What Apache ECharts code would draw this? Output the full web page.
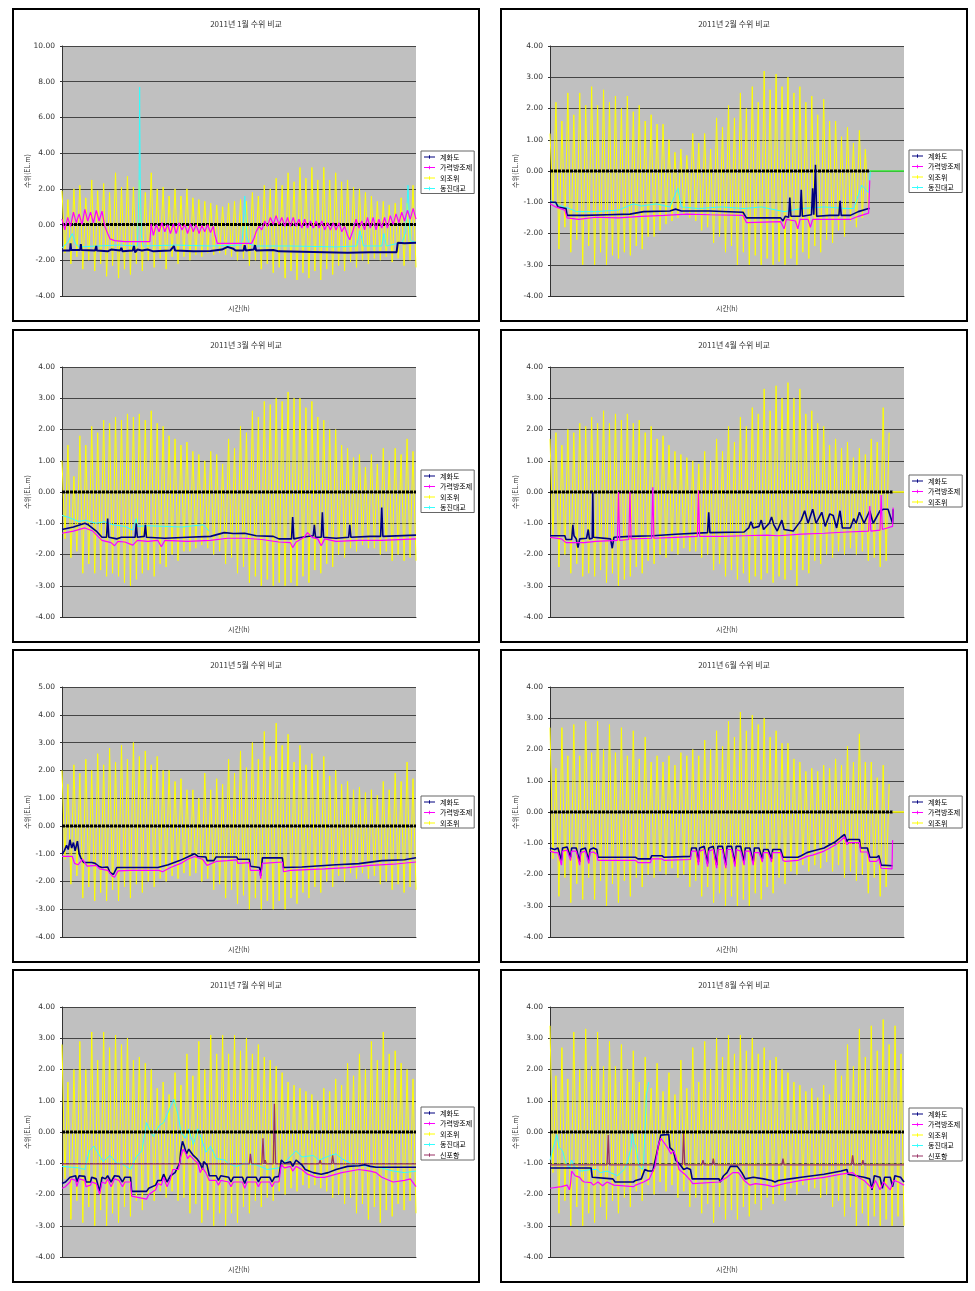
<!DOCTYPE html>
<html><head><meta charset="utf-8">
<script src="https://cdn.jsdelivr.net/npm/echarts@6/dist/echarts.min.js"></script>
<style>
html,body{margin:0;padding:0;background:#fff;width:975px;height:1291px;overflow:hidden}
.p{position:absolute;border:2px solid #000;width:464px;height:310px}
</style></head><body>
<div id="c1" class="p" style="left:12px;top:8px"></div>
<div id="c2" class="p" style="left:500px;top:8px"></div>
<div id="c3" class="p" style="left:12px;top:329px"></div>
<div id="c4" class="p" style="left:500px;top:329px"></div>
<div id="c5" class="p" style="left:12px;top:649px"></div>
<div id="c6" class="p" style="left:500px;top:649px"></div>
<div id="c7" class="p" style="left:12px;top:969px"></div>
<div id="c8" class="p" style="left:500px;top:969px"></div>
<script>
// ---------- categories ----------
const SERIES_NAMES = ['계화도','가력방조제','외조위','동진대교','신포항'];
const TIDE_SLOTS = Array.from({length:120}, (_, i) => i + 1); // successive tide extremes (high, low, ...)
const TITLES = ['2011년 1월 수위 비교','2011년 2월 수위 비교','2011년 3월 수위 비교','2011년 4월 수위 비교',
                '2011년 5월 수위 비교','2011년 6월 수위 비교','2011년 7월 수위 비교','2011년 8월 수위 비교'];
const Y_NAME = '수위(EL.m)';
const X_NAME = '시간(h)';

// ---------- 외조위 (outer tide) highs / lows, read per tide ----------
const JAN_HI = [1.9,1.4,2.0,2.2,1.5,2.5,1.9,2.3,1.8,2.9,2.1,2.7,2.1,2.5,1.8,2.9,2.0,2.1,1.6,2.0,1.6,2.0,1.5,1.4,1.3,1.2,1.1,1.0,1.2,1.3,1.4,1.3,1.8,1.6,2.2,2.0,2.6,2.2,2.9,2.4,3.2,2.6,3.2,2.5,3.2,2.5,2.9,2.4,2.5,2.1,2.0,1.8,1.6,1.3,1.3,1.1,1.2,1.5,1.2,2.2];
const JAN_LO = [-1.6,-2.2,-1.8,-2.5,-2.0,-2.6,-2.2,-2.9,-2.3,-3.0,-2.5,-2.8,-2.2,-2.6,-2.0,-2.4,-1.9,-2.5,-1.8,-2.2,-1.8,-2.0,-1.7,-1.8,-1.6,-1.7,-1.6,-1.7,-1.8,-2.0,-1.9,-2.3,-2.0,-2.5,-2.2,-2.7,-2.4,-3.0,-2.6,-3.1,-2.7,-3.0,-2.6,-3.1,-2.5,-2.8,-2.3,-2.6,-2.1,-2.4,-2.0,-2.2,-1.9,-2.0,-1.8,-2.1,-1.9,-2.3,-2.0,-2.4];
const FEB_HI = [1.2,2.2,1.6,2.5,1.8,2.5,2.1,2.7,2.1,2.6,2.2,2.4,2.0,2.4,1.9,2.1,1.6,1.8,1.5,1.5,1.0,0.6,0.7,0.5,1.2,0.9,1.2,0.7,1.7,1.4,2.1,1.7,2.5,2.0,2.7,2.2,3.2,2.6,3.1,2.7,3.0,2.5,2.7,2.2,2.4,1.8,2.3,1.6,1.6,1.1,1.4,0.9,1.3,0.7];
const FEB_LO = [-1.0,-2.5,-1.8,-2.6,-2.2,-3.0,-2.4,-3.0,-2.6,-3.0,-2.7,-2.8,-2.6,-2.7,-2.4,-2.5,-2.1,-2.1,-1.9,-1.7,-1.6,-1.5,-1.4,-1.5,-1.6,-1.9,-1.8,-2.3,-2.1,-2.6,-2.4,-3.0,-2.6,-3.0,-2.7,-3.0,-2.8,-3.0,-2.9,-3.0,-2.8,-3.0,-2.6,-2.8,-2.4,-2.6,-2.2,-2.3,-1.9,-2.1,-1.6,-1.8,-1.5,-1.2];
const MAR_HI = [1.0,1.5,0.5,1.8,1.5,2.1,1.9,2.3,2.2,2.4,2.3,2.5,2.4,2.5,2.3,2.6,2.2,2.1,1.8,1.7,1.5,1.6,1.3,1.2,1.0,1.3,1.2,0.9,1.7,1.4,2.1,1.9,2.6,2.4,2.9,2.8,3.0,2.9,3.2,3.0,3.0,2.7,2.9,2.4,2.3,2.0,2.0,1.5,1.4,1.1,1.2,0.8,1.2,0.9,1.4,1.0,1.4,1.2,1.7,1.3];
const MAR_LO = [-1.5,-2.1,-1.9,-2.6,-2.3,-2.6,-2.5,-2.7,-2.6,-2.7,-2.9,-3.0,-2.8,-2.6,-2.5,-2.7,-2.3,-2.4,-2.0,-2.2,-1.9,-1.9,-1.8,-1.7,-1.8,-2.0,-1.9,-2.3,-2.1,-2.6,-2.4,-2.9,-2.7,-3.0,-2.8,-3.0,-2.9,-3.0,-2.9,-3.0,-2.7,-2.9,-2.5,-2.6,-2.3,-2.4,-2.0,-2.1,-1.8,-1.9,-1.7,-1.8,-1.8,-2.0,-1.9,-2.2,-2.0,-2.2,-2.1,-2.2];
const APR_HI = [1.7,1.9,1.5,2.0,1.9,2.2,2.1,2.4,2.2,2.6,2.2,2.5,2.3,2.5,2.2,2.3,1.9,2.1,1.7,1.8,1.5,1.3,1.2,1.1,1.0,0.9,1.3,1.0,1.7,1.3,2.1,1.6,2.4,2.1,2.7,2.5,3.3,2.6,3.4,3.0,3.5,3.0,3.3,2.5,2.6,2.2,2.1,1.5,1.7,1.4,1.6,1.1,1.4,1.2,1.7,1.6,2.7,1.9];
const APR_LO = [-1.5,-2.4,-2.0,-2.6,-2.3,-2.7,-2.6,-2.7,-2.5,-2.9,-2.6,-3.0,-2.8,-2.7,-2.4,-2.6,-2.2,-2.3,-2.0,-2.1,-1.9,-2.0,-1.8,-1.9,-1.9,-2.1,-2.0,-2.5,-2.3,-2.7,-2.5,-2.8,-2.6,-2.9,-2.7,-2.8,-2.6,-2.9,-2.7,-2.8,-2.5,-3.0,-2.5,-2.6,-2.2,-2.3,-2.0,-2.1,-1.9,-2.0,-1.8,-2.0,-1.9,-2.2,-2.1,-2.4,-2.2];
const MAY_HI = [2.0,1.5,2.2,1.9,2.4,2.0,2.6,2.2,2.8,2.3,2.9,2.4,3.0,2.5,2.7,2.2,2.5,2.0,2.0,1.6,1.7,1.3,1.3,1.0,1.9,1.3,1.7,1.5,2.4,1.9,2.7,2.1,3.0,2.4,3.4,2.5,3.7,2.9,3.3,2.3,2.9,2.2,2.6,2.0,2.5,1.8,2.0,1.5,1.6,1.3,1.4,1.2,1.3,1.1,1.6,1.3,1.9,1.6,2.3,1.7];
const MAY_LO = [-1.2,-2.1,-1.8,-2.6,-2.2,-2.7,-2.4,-2.7,-2.3,-2.7,-2.2,-2.6,-2.1,-2.4,-2.0,-2.2,-1.9,-2.0,-1.8,-1.9,-1.7,-1.8,-1.7,-2.0,-1.9,-2.3,-2.1,-2.6,-2.3,-2.8,-2.5,-3.0,-2.6,-3.0,-2.7,-3.0,-2.7,-3.0,-2.6,-2.8,-2.4,-2.6,-2.2,-2.4,-2.0,-2.2,-1.8,-2.0,-1.7,-1.9,-1.7,-1.9,-1.8,-2.1,-2.0,-2.3,-2.1,-2.4,-2.2,-2.3];
const JUN_HI = [2.7,1.4,2.7,1.8,2.8,1.8,2.9,1.9,2.9,2.0,2.8,1.9,2.7,1.8,2.6,1.7,2.4,1.6,1.8,1.6,1.8,1.5,1.9,1.8,2.0,1.8,2.3,2.0,2.6,2.1,2.9,2.4,3.2,2.6,3.1,2.8,3.0,2.4,2.6,2.2,2.2,1.7,1.6,1.3,1.4,1.3,1.5,1.4,1.7,1.5,2.1,1.6,2.5,1.6,1.6,1.1,1.5,0.9];
const JUN_LO = [-1.5,-2.7,-2.1,-2.9,-2.3,-2.8,-2.1,-2.8,-2.2,-3.0,-2.3,-2.9,-2.2,-2.7,-2.1,-2.4,-2.0,-2.1,-1.9,-2.0,-1.8,-2.1,-2.0,-2.4,-2.2,-2.7,-2.4,-2.9,-2.6,-3.0,-2.7,-3.0,-2.8,-3.0,-2.6,-2.8,-2.4,-2.6,-2.1,-2.3,-1.9,-2.0,-1.7,-1.9,-1.7,-1.8,-1.6,-1.9,-1.7,-2.1,-1.9,-2.2,-2.0,-2.6,-2.1,-2.7,-2.4];
const JUL_HI = [2.8,1.6,2.0,2.9,2.0,3.2,2.3,3.2,2.7,3.1,2.8,3.0,2.3,2.4,2.2,2.0,1.4,1.6,1.2,1.9,1.5,2.5,1.8,2.9,2.0,3.1,2.5,3.1,2.5,3.1,2.6,3.0,2.5,2.8,2.4,2.3,2.1,1.9,1.6,1.5,1.4,1.3,1.2,1.0,1.4,1.3,1.7,1.5,2.2,1.8,2.5,2.0,2.9,2.3,3.2,2.5,2.6,2.2,2.0,1.7];
const JUL_LO = [-1.5,-2.8,-2.2,-2.9,-2.4,-3.0,-2.5,-3.0,-2.6,-2.9,-2.4,-2.7,-2.2,-2.5,-2.0,-2.2,-1.9,-2.1,-1.9,-2.2,-2.1,-2.6,-2.3,-2.9,-2.5,-3.0,-2.6,-3.0,-2.6,-2.9,-2.4,-2.6,-2.2,-2.4,-2.1,-2.2,-1.9,-2.0,-1.8,-1.9,-1.7,-1.8,-1.7,-1.8,-1.9,-2.1,-2.0,-2.3,-2.1,-2.6,-2.3,-2.8,-2.4,-2.9,-2.5,-2.7,-2.3,-2.5,-2.2,-2.6];
const AUG_HI = [3.4,1.8,2.7,1.7,3.2,2.0,3.3,2.1,3.2,2.1,2.9,2.1,2.8,2.0,2.6,1.6,2.4,1.4,2.2,1.3,1.9,1.2,2.3,1.4,2.7,1.6,2.9,2.0,3.0,2.4,3.1,2.5,3.1,2.6,3.0,2.5,2.7,2.3,2.4,2.0,1.9,1.6,1.5,1.3,1.4,1.1,1.5,1.2,2.3,1.8,2.8,2.1,3.3,2.4,3.4,2.6,3.6,2.8,3.4,2.5];
const AUG_LO = [-1.3,-2.6,-2.2,-3.0,-2.4,-3.0,-2.6,-2.9,-2.4,-2.8,-2.2,-2.6,-2.1,-2.4,-1.9,-2.2,-1.7,-2.0,-1.6,-1.9,-1.7,-2.1,-1.9,-2.4,-2.1,-2.6,-2.3,-2.9,-2.4,-2.8,-2.5,-2.8,-2.4,-2.7,-2.3,-2.5,-2.1,-2.3,-2.0,-2.2,-1.8,-2.0,-1.7,-1.9,-1.8,-2.1,-2.0,-2.4,-2.2,-2.7,-2.4,-3.0,-2.6,-3.0,-2.7,-3.0,-2.8,-3.0,-2.7,-3.0];

// ---------- station levels: [day of month, EL.m] ----------
const JAN_KYE = [[0,-1.45],[0.7,-1.45],[0.75,-1.05],[0.8,-1.42],[1.6,-1.42],[1.65,-1.1],[1.7,-1.42],[2.9,-1.45],[3.0,-1.2],[3.05,-1.45],[4.0,-1.5],[4.3,-1.4],[5.1,-1.45],[5.2,-1.3],[5.3,-1.5],[6.2,-1.45],[6.3,-1.2],[6.4,-1.55],[6.6,-1.4],[7.0,-1.45],[7.5,-1.4],[8.0,-1.5],[9.5,-1.45],[9.8,-1.2],[9.9,-1.45],[11.5,-1.5],[13.0,-1.48],[14.0,-1.4],[14.5,-1.25],[15.0,-1.35],[15.2,-1.45],[15.9,-1.45],[16.0,-1.15],[16.1,-1.45],[16.8,-1.4],[16.9,-1.15],[17.0,-1.45],[18.5,-1.42],[19.0,-1.5],[21.0,-1.52],[23.0,-1.55],[25.0,-1.58],[27.0,-1.55],[29.3,-1.55],[29.4,-1.02],[30.0,-1.05],[31,-1.02]];
const JAN_GAR = [[0,0.3],[0.25,-0.3],[0.5,0.4],[0.75,-0.1],[1.0,0.7],[1.25,0.1],[1.5,0.6],[1.75,0.0],[2.0,0.85],[2.25,0.2],[2.5,0.7],[2.75,0.1],[3.0,0.8],[3.25,0.2],[3.5,0.75],[3.75,-0.1],[4.0,-0.5],[4.2,-0.8],[4.6,-0.9],[5.5,-0.95],[7.7,-0.95],[7.8,0.05],[8.0,-0.6],[8.25,0.0],[8.5,-0.4],[8.75,0.1],[9.0,-0.4],[9.25,0.0],[9.5,-0.5],[9.75,0.05],[10.0,-0.5],[10.25,0.1],[10.5,-0.3],[10.75,0.0],[11.0,-0.5],[11.25,0.05],[11.5,-0.4],[11.75,0.0],[12.0,-0.5],[12.25,-0.05],[12.5,-0.4],[12.75,0.0],[13.0,-0.45],[13.25,-0.1],[13.4,-0.6],[13.6,-1.05],[16.6,-1.05],[16.8,-0.8],[17.0,-0.4],[17.25,-0.1],[17.5,-0.3],[17.75,0.2],[18.0,-0.1],[18.25,0.4],[18.5,0.0],[18.75,0.5],[19.0,0.0],[19.25,0.4],[19.5,-0.1],[19.75,0.4],[20.0,-0.1],[20.25,0.4],[20.5,-0.1],[20.75,0.3],[21.0,-0.2],[21.25,0.3],[21.5,-0.2],[21.75,0.2],[22.0,-0.2],[22.25,0.2],[22.5,-0.2],[22.75,0.2],[23.0,-0.3],[23.25,0.1],[23.5,-0.3],[23.75,0.1],[24.0,-0.3],[24.25,0.1],[24.5,-0.4],[24.75,-0.1],[25.0,-0.6],[25.2,-0.85],[25.5,-0.3],[25.75,0.3],[26.0,-0.2],[26.25,0.2],[26.5,-0.3],[26.75,0.4],[27.0,-0.2],[27.25,0.4],[27.5,-0.3],[27.75,0.3],[28.0,-0.2],[28.25,0.4],[28.5,-0.2],[28.75,0.5],[29.0,0.0],[29.25,0.6],[29.5,0.1],[29.75,0.7],[30.0,0.2],[30.25,0.8],[30.5,0.3],[30.75,0.9],[31,0.3]];
const JAN_DONG = [[0,-1.3],[0.5,-1.0],[0.9,-0.5],[1.2,-1.1],[1.5,-1.25],[3,-1.2],[5,-1.15],[6.6,-1.2],[6.75,2.0],[6.8,7.7],[6.85,2.4],[6.95,-0.6],[7.1,-1.2],[10,-1.15],[13,-1.2],[15.7,-1.15],[15.8,-0.8],[16.0,1.6],[16.2,-0.7],[16.4,-1.1],[17,-1.2],[20,-1.2],[24,-1.25],[25.8,-1.2],[26.1,-0.35],[26.4,-1.2],[28.0,-1.2],[28.2,-0.5],[28.4,-1.2],[29.8,-1.0],[30.1,-0.4],[30.3,2.2],[30.5,-0.9],[31,-1.0]];

const FEB_KYE = [[0,-1.0],[0.5,-1.0],[0.7,-1.15],[1.4,-1.2],[1.5,-1.42],[3,-1.42],[5,-1.4],[7,-1.38],[8.2,-1.3],[10.5,-1.28],[11,-1.22],[11.5,-1.28],[14,-1.28],[16.9,-1.32],[17.2,-1.5],[20.2,-1.5],[20.4,-1.6],[20.6,-1.45],[20.9,-1.48],[21.0,-0.85],[21.1,-1.45],[21.9,-1.45],[22.0,-0.6],[22.1,-1.45],[22.9,-1.4],[23.0,-0.55],[23.1,-1.4],[23.25,0.2],[23.35,-1.45],[24.5,-1.42],[25.3,-1.42],[25.4,-0.95],[25.5,-1.42],[26.3,-1.42],[27,-1.3],[27.9,-1.2],[28.0,-1.2]];
const FEB_GAR = [[0,-1.05],[0.5,-1.15],[1.3,-1.25],[1.5,-1.5],[2.5,-1.55],[4,-1.48],[6,-1.5],[8,-1.45],[10,-1.42],[12,-1.38],[14,-1.4],[16.9,-1.42],[17.2,-1.65],[20.2,-1.62],[20.5,-1.85],[20.7,-1.55],[21.5,-1.6],[21.7,-1.85],[21.9,-1.55],[22.6,-1.55],[22.8,-1.8],[23.0,-1.55],[25,-1.55],[26.3,-1.55],[27,-1.45],[27.9,-1.35],[28.0,-0.3]];
const FEB_DONG = [[0,-0.95],[0.8,-1.1],[1.7,-1.2],[2.3,-1.3],[4,-1.3],[6,-1.25],[7.3,-1.05],[8,-1.12],[9.3,-1.05],[10.5,-1.15],[11.2,-0.55],[11.5,-1.15],[13,-1.2],[15,-1.15],[17,-1.2],[18.5,-1.15],[20.5,-1.3],[22,-1.2],[24,-1.15],[26,-1.2],[26.6,-1.2],[27.3,-0.45],[27.9,-0.7],[28.05,0]];
const FEB_TAIL = [[28,0],[31,0]];

const MAR_KYE = [[0,-1.2],[1,-1.12],[2,-1.0],[2.3,-1.05],[3.0,-1.25],[3.5,-1.45],[3.9,-1.45],[4.0,-0.85],[4.1,-1.45],[4.8,-1.5],[5.2,-1.45],[6.4,-1.45],[6.5,-1.0],[6.6,-1.45],[7.2,-1.42],[7.3,-1.05],[7.4,-1.45],[9,-1.48],[11,-1.45],[13,-1.42],[14.2,-1.3],[15,-1.33],[16,-1.32],[17,-1.4],[18.5,-1.42],[19,-1.5],[20.1,-1.5],[20.2,-0.8],[20.3,-1.5],[21,-1.45],[22.0,-1.4],[22.1,-1.05],[22.2,-1.45],[22.7,-1.45],[22.8,-0.65],[22.9,-1.45],[24,-1.48],[25.1,-1.45],[25.2,-1.05],[25.3,-1.45],[27,-1.42],[27.9,-1.42],[28.0,-0.5],[28.1,-1.42],[31,-1.38]];
const MAR_GAR = [[0,-1.32],[1,-1.25],[2,-1.15],[2.7,-1.25],[3.5,-1.55],[4.3,-1.62],[4.6,-1.72],[4.9,-1.58],[5.5,-1.6],[6.2,-1.7],[6.6,-1.55],[7.5,-1.58],[8.4,-1.55],[8.7,-1.75],[9.0,-1.55],[11,-1.58],[13,-1.55],[14.5,-1.48],[16,-1.48],[17.5,-1.52],[19,-1.6],[20.0,-1.62],[20.2,-1.78],[20.5,-1.6],[21.2,-1.45],[21.5,-1.3],[21.9,-1.45],[22.4,-1.5],[22.7,-1.72],[23,-1.5],[24,-1.58],[26,-1.55],[28,-1.55],[31,-1.5]];
const MAR_DONG = [[0,-0.75],[0.5,-0.8],[1.5,-0.95],[2,-0.9],[3,-1.0],[3.7,-0.95],[4.5,-1.05],[5.5,-1.1],[6.2,-1.22],[6.5,-0.85],[6.6,-1.1],[7.5,-1.08],[9,-1.1],[10.5,-1.12],[11.5,-1.08],[12.4,-1.05],[12.8,-1.22],[12.9,-1.25]];

const APR_KYE = [[0,-1.4],[1.3,-1.4],[1.4,-1.52],[1.9,-1.52],[2.0,-1.05],[2.1,-1.4],[2.3,-1.5],[2.45,-1.78],[2.6,-1.5],[3.2,-1.48],[3.35,-1.2],[3.45,-1.5],[3.7,-1.48],[3.75,0.0],[3.8,-1.45],[5.3,-1.5],[5.45,-1.8],[5.6,-1.45],[7,-1.42],[9,-1.4],[11,-1.35],[13.8,-1.3],[13.9,-0.65],[14.0,-1.3],[17,-1.28],[17.4,-1.15],[17.6,-0.95],[17.8,-1.15],[18.3,-1.1],[18.5,-0.9],[18.7,-1.2],[19.2,-1.0],[19.4,-0.8],[19.6,-1.05],[19.9,-1.25],[20.3,-0.9],[20.5,-1.2],[21.3,-1.25],[21.6,-1.1],[22.0,-0.9],[22.3,-0.6],[22.6,-1.0],[23.0,-0.55],[23.3,-1.0],[23.8,-0.65],[24.1,-1.1],[24.5,-0.7],[24.8,-0.75],[25.1,-1.15],[25.4,-0.6],[25.6,-1.15],[26.3,-1.15],[26.6,-0.85],[26.8,-1.0],[27.1,-0.65],[27.5,-1.0],[28.0,-0.6],[28.3,-1.0],[28.9,-0.6],[29.2,-0.55],[29.6,-0.55],[30.0,-1.0],[30.05,-0.55]];
const APR_GAR = [[0,-1.45],[1.0,-1.5],[1.4,-1.62],[3,-1.62],[4,-1.58],[5.9,-1.55],[6.0,0.0],[6.1,-1.55],[6.9,-1.52],[7.0,0.0],[7.1,-1.5],[8.9,-1.48],[9.0,0.15],[9.1,-1.48],[11,-1.45],[12.9,-1.42],[13.0,0.05],[13.1,-1.42],[15,-1.42],[17,-1.4],[19,-1.38],[20,-1.4],[22,-1.35],[24,-1.32],[26,-1.28],[27.9,-1.25],[28.0,-0.45],[28.1,-1.25],[28.9,-1.22],[29.0,-0.1],[29.1,-1.2],[30,-1.1],[30.05,-0.5]];
const APR_TAIL = [[30,0],[31,0]];

const MAY_KYE = [[0,-1.0],[0.2,-0.9],[0.4,-0.7],[0.55,-0.85],[0.7,-0.5],[0.85,-0.8],[1.0,-0.6],[1.15,-0.9],[1.35,-0.55],[1.5,-1.0],[1.65,-1.15],[1.9,-1.32],[2.6,-1.32],[2.7,-1.25],[2.9,-1.35],[3.2,-1.45],[3.5,-1.5],[4.0,-1.48],[4.2,-1.68],[4.5,-1.75],[4.8,-1.5],[6,-1.5],[8.4,-1.5],[9.3,-1.4],[10.3,-1.25],[11,-1.12],[11.6,-1.0],[11.9,-1.1],[12.6,-1.12],[12.7,-1.25],[13.3,-1.25],[13.5,-1.12],[15.3,-1.12],[15.4,-1.2],[16.4,-1.2],[16.5,-1.45],[17.3,-1.5],[17.4,-1.8],[17.55,-1.15],[19.3,-1.15],[19.4,-1.5],[21,-1.48],[24,-1.4],[26,-1.36],[28,-1.25],[30,-1.22],[31,-1.15]];
const MAY_GAR = [[0,-1.1],[0.9,-1.1],[1.1,-1.35],[1.4,-1.4],[1.8,-1.2],[2.2,-1.45],[3.0,-1.42],[3.3,-1.55],[4.0,-1.6],[4.4,-1.8],[4.6,-1.85],[4.9,-1.62],[6,-1.6],[8.5,-1.6],[8.8,-1.65],[9.5,-1.5],[10.4,-1.35],[11,-1.2],[11.6,-1.1],[12.3,-1.2],[12.7,-1.42],[13.5,-1.28],[14.5,-1.25],[15.3,-1.22],[15.4,-1.35],[16.4,-1.32],[16.5,-1.6],[17.3,-1.6],[17.4,-1.9],[17.55,-1.35],[19.3,-1.3],[19.4,-1.65],[20,-1.6],[23,-1.55],[25,-1.5],[27,-1.42],[29,-1.38],[31,-1.3]];

const JUN_KYE = [[0,-1.15],[0.4,-1.2],[0.7,-1.15],[1.0,-1.55],[1.1,-1.15],[1.5,-1.12],[1.8,-1.45],[1.9,-1.15],[2.3,-1.15],[2.6,-1.6],[2.7,-1.2],[3.1,-1.15],[3.4,-1.55],[3.5,-1.2],[3.8,-1.15],[4.1,-1.2],[4.2,-1.45],[7.5,-1.45],[7.7,-1.5],[8.8,-1.5],[8.9,-1.4],[9.8,-1.4],[10,-1.45],[12.3,-1.42],[12.4,-1.15],[12.8,-1.15],[13.0,-1.6],[13.1,-1.15],[13.5,-1.1],[13.8,-1.65],[13.9,-1.15],[14.3,-1.1],[14.6,-1.7],[14.7,-1.1],[15.1,-1.1],[15.4,-1.7],[15.5,-1.1],[15.9,-1.1],[16.2,-1.65],[16.3,-1.1],[16.7,-1.1],[17.0,-1.6],[17.1,-1.15],[17.5,-1.15],[17.8,-1.6],[17.9,-1.15],[18.3,-1.15],[18.6,-1.5],[18.7,-1.2],[19.1,-1.2],[19.4,-1.5],[19.5,-1.2],[20.2,-1.2],[20.4,-1.45],[20.6,-1.45],[21.7,-1.45],[22,-1.4],[22.5,-1.3],[23,-1.25],[24,-1.15],[24.5,-1.05],[25,-0.95],[25.5,-0.8],[25.8,-0.72],[26.0,-0.95],[26.1,-0.88],[27.1,-0.88],[27.2,-1.15],[27.8,-1.15],[28.0,-1.45],[28.6,-1.45],[28.8,-1.4],[29.0,-1.7],[30.0,-1.72]];
const JUN_GAR = [[0,-1.25],[0.4,-1.3],[0.7,-1.3],[1.0,-1.7],[1.1,-1.25],[1.5,-1.22],[1.8,-1.55],[1.9,-1.25],[2.3,-1.25],[2.6,-1.7],[2.7,-1.3],[3.1,-1.25],[3.4,-1.65],[3.5,-1.3],[3.8,-1.28],[4.1,-1.35],[4.2,-1.55],[7.5,-1.55],[7.7,-1.62],[8.8,-1.62],[8.9,-1.5],[9.8,-1.5],[10,-1.55],[12.3,-1.52],[12.4,-1.25],[12.8,-1.25],[13.0,-1.7],[13.1,-1.25],[13.5,-1.2],[13.8,-1.75],[13.9,-1.25],[14.3,-1.2],[14.6,-1.8],[14.7,-1.2],[15.1,-1.2],[15.4,-1.8],[15.5,-1.2],[15.9,-1.2],[16.2,-1.75],[16.3,-1.2],[16.7,-1.25],[17.0,-1.7],[17.1,-1.25],[17.5,-1.25],[17.8,-1.7],[17.9,-1.3],[18.3,-1.3],[18.6,-1.6],[18.7,-1.3],[19.1,-1.3],[19.4,-1.6],[19.5,-1.3],[20.2,-1.3],[20.4,-1.55],[20.6,-1.58],[21.7,-1.55],[22,-1.5],[22.5,-1.42],[23,-1.38],[24,-1.25],[24.5,-1.15],[25,-1.05],[25.5,-0.9],[25.8,-0.8],[26.0,-1.05],[26.1,-0.98],[27.1,-0.98],[27.2,-1.28],[27.8,-1.28],[28.0,-1.58],[28.6,-1.58],[28.8,-1.5],[29.0,-1.8],[29.95,-1.82],[30.0,-0.9]];
const JUN_TAIL = [[30,0],[31,0]];

const JUL_KYE = [[0,-1.65],[0.3,-1.6],[0.7,-1.45],[0.8,-1.4],[1.2,-1.4],[1.3,-1.6],[1.5,-1.4],[2.0,-1.42],[2.1,-1.6],[2.5,-1.6],[2.6,-1.45],[3.0,-1.5],[3.3,-1.9],[3.5,-1.45],[3.8,-1.5],[4.0,-1.4],[4.3,-1.6],[4.6,-1.4],[5.0,-1.42],[5.3,-1.6],[5.5,-1.45],[6.0,-1.45],[6.1,-1.9],[7.4,-1.9],[7.6,-1.8],[8.2,-1.7],[8.4,-1.55],[8.7,-1.55],[8.9,-1.35],[9.2,-1.6],[9.5,-1.4],[9.9,-1.3],[10.0,-1.3],[10.3,-1.0],[10.4,-0.6],[10.55,-0.3],[10.7,-0.45],[10.9,-0.7],[11.1,-0.55],[11.5,-0.75],[11.8,-0.85],[12.1,-1.0],[12.3,-1.2],[12.4,-0.95],[12.7,-1.05],[12.9,-1.4],[13.5,-1.4],[13.7,-1.55],[13.9,-1.4],[14.6,-1.45],[14.8,-1.6],[15.0,-1.45],[15.8,-1.45],[16.0,-1.65],[16.2,-1.45],[17.0,-1.45],[17.2,-1.6],[17.4,-1.45],[18.2,-1.45],[18.4,-1.6],[18.6,-1.45],[19.0,-1.42],[19.2,-0.9],[19.5,-1.0],[20.0,-0.95],[20.2,-1.1],[20.5,-0.9],[21.0,-1.05],[21.3,-1.2],[22.0,-1.3],[22.7,-1.35],[23.3,-1.3],[24,-1.2],[25,-1.1],[26,-1.08],[26.5,-1.05],[27,-1.1],[27.5,-1.13],[31,-1.13]];
const JUL_GAR = [[0,-1.8],[0.3,-1.75],[0.7,-1.6],[0.8,-1.5],[1.2,-1.55],[1.3,-1.75],[1.5,-1.5],[2.0,-1.55],[2.1,-1.75],[2.5,-1.7],[2.6,-1.6],[3.0,-1.65],[3.3,-2.0],[3.5,-1.6],[3.8,-1.65],[4.0,-1.5],[4.3,-1.75],[4.6,-1.5],[5.0,-1.55],[5.3,-1.75],[5.5,-1.6],[6.0,-1.6],[6.1,-2.05],[7.4,-2.15],[7.6,-2.0],[8.2,-1.85],[8.4,-1.65],[8.7,-1.7],[8.9,-1.45],[9.2,-1.75],[9.5,-1.5],[9.7,-1.2],[10.2,-1.2],[10.4,-0.8],[10.6,-0.55],[10.8,-0.65],[11.0,-0.85],[11.2,-0.75],[11.6,-0.9],[11.9,-1.0],[12.1,-1.3],[12.3,-1.15],[12.6,-1.3],[12.9,-1.55],[13.5,-1.55],[13.7,-1.7],[13.9,-1.55],[14.6,-1.6],[14.8,-1.75],[15.0,-1.6],[15.8,-1.6],[16.0,-1.8],[16.2,-1.6],[17.0,-1.6],[17.2,-1.75],[17.4,-1.6],[18.2,-1.6],[18.4,-1.75],[18.6,-1.6],[19.0,-1.6],[19.2,-1.05],[19.5,-1.15],[20.0,-1.1],[20.2,-1.25],[20.5,-1.1],[21.0,-1.2],[21.5,-1.35],[22.3,-1.45],[23.0,-1.45],[24.5,-1.3],[26,-1.2],[27,-1.25],[27.5,-1.3],[28,-1.45],[29,-1.6],[30,-1.55],[30.5,-1.5],[31,-1.75]];
const JUL_DONG = [[0,-1.1],[1.5,-1.15],[2.0,-1.2],[2.4,-0.6],[2.8,-0.45],[3.2,-0.7],[3.6,-0.95],[4.2,-0.75],[4.8,-1.0],[5.2,-1.0],[6.0,-1.2],[6.5,-0.8],[7.0,-0.6],[7.4,0.3],[8.0,-0.15],[8.5,0.2],[8.9,0.3],[9.5,0.8],[9.8,1.05],[10.2,0.5],[10.4,0.0],[10.8,-0.2],[11.1,0.1],[11.5,-0.4],[11.9,0.1],[12.2,-0.2],[12.6,-0.65],[13.0,-0.45],[13.5,-0.85],[14.3,-0.9],[14.5,-1.0],[15.3,-1.1],[16,-1.0],[17,-1.05],[18,-1.2],[19,-1.15],[20.5,-0.6],[21,-0.8],[22,-0.75],[22.5,-0.9],[23.5,-0.75],[24,-0.7],[24.5,-0.85],[25.5,-1.05],[27,-1.1],[28,-1.15],[29,-1.25],[30,-1.3],[31,-1.25]];
const JUL_SIN = [[0,-1.02],[16.4,-1.02],[16.5,-0.7],[16.6,-1.02],[17.5,-1.02],[17.6,-0.2],[17.7,-1.02],[17.8,-0.9],[17.9,-1.02],[18.5,-1.02],[18.6,0.9],[18.7,-1.02],[22.5,-1.02],[22.6,-0.9],[22.7,-1.02],[23.6,-1.02],[23.7,-0.75],[23.8,-1.02],[31,-1.02]];

const AUG_KYE = [[0,-1.15],[3.6,-1.15],[3.7,-1.45],[5.5,-1.5],[5.7,-1.6],[7.3,-1.6],[7.5,-1.55],[8.0,-1.5],[8.3,-1.2],[8.6,-1.25],[9.0,-1.25],[9.7,-0.1],[10.4,-0.08],[10.5,-0.5],[10.8,-0.6],[11.0,-0.9],[11.4,-1.05],[11.7,-1.2],[12.0,-1.15],[12.3,-1.2],[12.45,-1.5],[14.8,-1.5],[14.9,-1.6],[15.2,-1.4],[15.5,-1.3],[15.8,-1.1],[16.4,-1.1],[16.8,-1.3],[17.1,-1.5],[17.8,-1.45],[18.7,-1.5],[19.4,-1.55],[19.7,-1.6],[20,-1.55],[21,-1.5],[22,-1.45],[24,-1.35],[25.5,-1.25],[26,-1.2],[26.1,-1.35],[26.8,-1.4],[27.5,-1.45],[28.0,-1.5],[28.2,-1.85],[28.4,-1.4],[28.9,-1.45],[29.1,-1.8],[29.3,-1.45],[29.8,-1.45],[30.0,-1.75],[30.2,-1.4],[30.7,-1.45],[31,-1.6]];
const AUG_GAR = [[0,-1.8],[1.0,-1.75],[1.5,-1.7],[1.7,-1.85],[1.8,-1.65],[1.9,-1.25],[2.2,-1.4],[2.6,-1.45],[2.8,-1.55],[3.0,-1.6],[3.6,-1.62],[3.8,-1.7],[4.2,-1.6],[4.6,-1.72],[5.0,-1.6],[5.6,-1.7],[5.7,-1.75],[7.3,-1.75],[7.5,-1.7],[8.2,-1.6],[8.7,-1.5],[9.2,-1.1],[9.5,-0.4],[9.7,-0.2],[10.0,-0.35],[10.3,-0.5],[10.6,-0.7],[10.8,-0.6],[11.0,-0.75],[11.3,-1.2],[11.8,-1.35],[12.3,-1.55],[12.5,-1.65],[14.8,-1.6],[15.5,-1.45],[16,-1.3],[16.5,-1.3],[17,-1.55],[17.5,-1.7],[18,-1.65],[19,-1.7],[19.5,-1.75],[20.5,-1.65],[22,-1.55],[24,-1.45],[25.5,-1.35],[26.5,-1.3],[27,-1.45],[27.5,-1.55],[28.2,-1.8],[28.5,-1.55],[28.9,-1.85],[29.2,-1.6],[29.8,-1.85],[30.1,-1.55],[30.5,-1.6],[31,-1.7]];
const AUG_DONG = [[0,-0.9],[0.6,-0.08],[0.8,-0.5],[1.1,-0.6],[1.4,-1.0],[1.7,-1.15],[1.9,-0.9],[2.1,-1.1],[2.7,-1.25],[3.6,-1.2],[4.1,-1.2],[4.4,-1.3],[5.0,-1.25],[5.6,-1.35],[5.9,-1.4],[6.2,-1.3],[6.5,-1.2],[6.8,-0.95],[7.1,-0.5],[7.2,0.0],[7.35,-0.35],[7.5,-0.45],[7.8,-1.1],[8.1,-1.2],[8.2,-1.0],[8.45,1.2],[8.65,1.6]];
const AUG_SIN = [[0,-1.05],[5.0,-1.05],[5.1,-0.1],[5.2,-1.05],[11.6,-1.05],[11.7,0.0],[11.8,-1.05],[13.3,-1.05],[13.4,-0.9],[13.5,-1.05],[14.2,-1.05],[14.3,-0.85],[14.4,-1.05],[20.3,-1.05],[20.4,-0.85],[20.5,-1.05],[26.4,-1.05],[26.5,-0.75],[26.6,-1.05],[27.3,-1.05],[27.4,-0.9],[27.5,-1.05],[31,-1.05]];

// span of the 0.00 reference series (days with data)
const ZERO_SPAN = [31, 28, 31, 30, 31, 30, 31, 31];
// y-axis ranges [min, max, interval]
const Y_RANGES = [[-4,10,2],[-4,4,1],[-4,4,1],[-4,4,1],[-4,5,1],[-4,4,1],[-4,4,1],[-4,4,1]];

// ---------- styles ----------
const KR = '"Noto Sans CJK KR","Noto Sans",sans-serif';
const NUMF = '"DejaVu Sans","Noto Sans",sans-serif';
const COL = {kye:'#000080', gar:'#FF00FF', yel:'#FFFF00', dong:'#33FFFF', sin:'#993366', zero:'#000000', tailG:'#33EE33'};
const LEG_ICON = 'path://M0,2H12V3H0Z M5.5,0.5H6.5V4.5H5.5Z';

function interleave(hi, lo){
  const out = [];
  for (let i = 0; i < hi.length; i++){ out.push(hi[i]); if (i < lo.length) out.push(lo[i]); }
  return out;
}
function ln(name, data, color, width, z){
  return {name, type:'line', data, symbol:'none', showSymbol:false, lineStyle:{color, width}, itemStyle:{color},
          z, silent:true, animation:false, emphasis:{disabled:true}};
}

const PANELS = [
  {id:'c1', hi:JAN_HI, lo:JAN_LO, kye:JAN_KYE, gar:JAN_GAR, dong:JAN_DONG, kyeW:2, legTop:141},
  {id:'c2', hi:FEB_HI, lo:FEB_LO, kye:FEB_KYE, gar:FEB_GAR, dong:FEB_DONG, tail:FEB_TAIL, tailC:COL.tailG, legTop:140},
  {id:'c3', hi:MAR_HI, lo:MAR_LO, kye:MAR_KYE, gar:MAR_GAR, dong:MAR_DONG, legTop:139},
  {id:'c4', hi:APR_HI, lo:APR_LO, kye:APR_KYE, gar:APR_GAR, tail:APR_TAIL, tailC:COL.yel, legTop:144},
  {id:'c5', hi:MAY_HI, lo:MAY_LO, kye:MAY_KYE, gar:MAY_GAR, legTop:145},
  {id:'c6', hi:JUN_HI, lo:JUN_LO, kye:JUN_KYE, gar:JUN_GAR, tail:JUN_TAIL, tailC:COL.yel, legTop:145},
  {id:'c7', hi:JUL_HI, lo:JUL_LO, kye:JUL_KYE, gar:JUL_GAR, dong:JUL_DONG, sin:JUL_SIN, legTop:136},
  {id:'c8', hi:AUG_HI, lo:AUG_LO, kye:AUG_KYE, gar:AUG_GAR, dong:AUG_DONG, sin:AUG_SIN, legTop:137}
];

PANELS.forEach((p, k) => {
  const chart = echarts.init(document.getElementById(p.id), null, {renderer:'canvas'});
  const yr = Y_RANGES[k];
  const legendNames = [SERIES_NAMES[0], SERIES_NAMES[1], SERIES_NAMES[2]];
  if (p.dong) legendNames.push(SERIES_NAMES[3]);
  if (p.sin) legendNames.push(SERIES_NAMES[4]);

  const series = [];
  series.push(Object.assign(ln(SERIES_NAMES[2], interleave(p.hi, p.lo), COL.yel, 1, 2), {xAxisIndex:1}));
  if (p.dong) series.push(ln(SERIES_NAMES[3], p.dong, COL.dong, 1, 3));
  if (p.sin) series.push(ln(SERIES_NAMES[4], p.sin, COL.sin, 1.3, 3));
  series.push(ln('_zero', [[0,0],[ZERO_SPAN[k],0]], COL.zero, 3, 4));
  series[series.length-1].lineStyle.type = [3,1];
  if (p.tail) series.push(ln('_tail', p.tail, p.tailC, 1.5, 4));
  series.push(ln(SERIES_NAMES[0], p.kye, COL.kye, p.kyeW || 1.6, 5));
  series.push(ln(SERIES_NAMES[1], p.gar, COL.gar, 1.2, 6));

  chart.setOption({
    animation:false,
    backgroundColor:'#ffffff',
    title:{text:TITLES[k], left:'center', top:10, padding:0,
           textStyle:{fontSize:8, fontWeight:'normal', color:'#333', fontFamily:KR}},
    grid:{left:48, top:36, width:354, height:250, show:true, backgroundColor:'#C0C0C0', borderWidth:0,
          containLabel:false, outerBoundsMode:'none'},
    legend:{data:legendNames, orient:'vertical', left:407, top:p.legTop, selectedMode:false,
            icon:LEG_ICON, backgroundColor:'#ffffff', borderColor:'#666', borderWidth:1, borderRadius:0,
            padding:[2,2,1,3], itemGap:2.5, itemWidth:11, itemHeight:5,
            textStyle:{fontSize:7, fontFamily:KR, color:'#000', lineHeight:8}},
    xAxis:[
      {type:'value', min:0, max:31, name:X_NAME, nameLocation:'middle', nameGap:9,
       nameTextStyle:{fontSize:7, fontFamily:KR, color:'#333'},
       axisLine:{show:true, onZero:false, lineStyle:{color:'#333', width:1}},
       axisTick:{show:false}, axisLabel:{show:false}, splitLine:{show:false}},
      {type:'category', data:TIDE_SLOTS, boundaryGap:false, show:false}
    ],
    yAxis:{type:'value', min:yr[0], max:yr[1], interval:yr[2],
           name:Y_NAME, nameLocation:'middle', nameGap:31, nameRotate:90, nameMoveOverlap:false,
           nameTextStyle:{fontSize:7, fontFamily:KR, color:'#333'},
           axisLine:{show:true, lineStyle:{color:'#333', width:1}},
           axisTick:{show:true, length:2, lineStyle:{color:'#333'}},
           axisLabel:{formatter:v => v.toFixed(2), fontSize:7.5, color:'#333', fontFamily:NUMF, margin:7},
           splitLine:{show:true, lineStyle:{color:'#454545', width:1}}},
    series
  });
});
</script>
</body></html>
